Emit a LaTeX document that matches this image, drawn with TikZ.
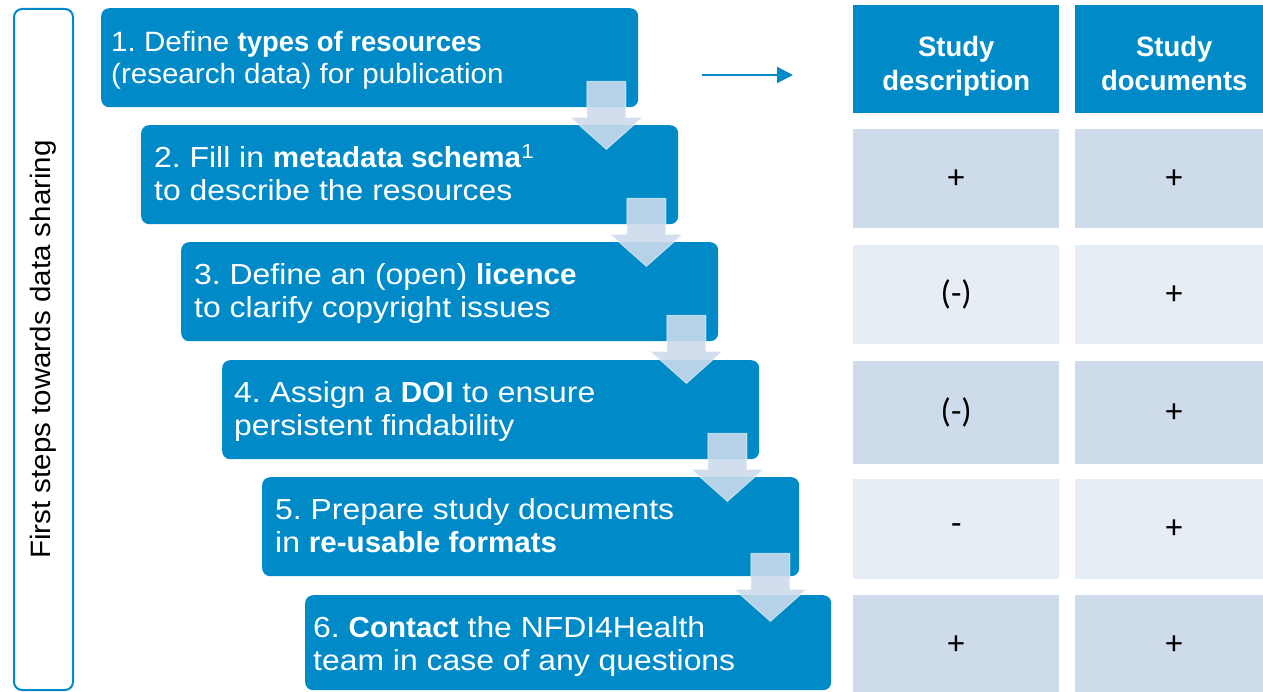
\documentclass[tikz,border=0pt]{standalone}
\usepackage{fontspec}
\setmainfont{Liberation Sans}[FakeStretch=1.055,BoldFeatures={FakeStretch=0.98}]
\newfontfamily\stepfont{Liberation Sans}[FakeStretch=1.10,BoldFeatures={FakeStretch=1.02}]
\newfontfamily\cellfont{Carlito}
\usetikzlibrary{arrows.meta}
\frenchspacing
\definecolor{nblue}{RGB}{0,139,200}
\definecolor{rowdark}{RGB}{205,219,234}
\definecolor{rowlight}{RGB}{230,237,245}
\definecolor{arrfill}{RGB}{205,219,236}
\tikzset{
  stepbox/.style={fill=nblue, rounded corners=8pt, anchor=north west, minimum width=537pt, minimum height=99pt, inner sep=0pt},
  steptext/.style={anchor=north west, align=left, inner sep=0pt, text=white, font=\stepfont\fontsize{29}{33}\selectfont},
  firsttext/.style={steptext, font=\fontsize{28}{32}\selectfont},
  headcell/.style={fill=nblue, anchor=north west, minimum width=206pt, minimum height=108pt, inner sep=0pt},
  headtext/.style={anchor=north, align=center, inner sep=0pt, text=white, font=\fontsize{28}{34}\selectfont\bfseries},
  darkcell/.style={fill=rowdark, anchor=north west, minimum width=206pt, minimum height=99pt, inner sep=0pt, font=\cellfont\fontsize{34}{36}\selectfont},
  lightcell/.style={darkcell, fill=rowlight},
  frame/.style={draw=nblue, line width=2pt, rounded corners=8pt, anchor=north west, minimum width=59pt, minimum height=681pt, inner sep=0pt},
  sidetext/.style={rotate=90, inner sep=0pt, font=\fontsize{28}{32}\selectfont},
  arrstyle/.style={fill=arrfill, fill opacity=0.89, draw=white, draw opacity=0.5, line width=1pt},
  harrow/.style={draw=nblue, line width=2pt, -{Triangle[length=16pt,width=16pt]}},
  downarr/.pic={\path[arrstyle] (-19.5,0) -- (19.5,0) -- (19.5,36) -- (36,36) -- (0,68) -- (-36,36) -- (-19.5,36) -- cycle;}
}
\begin{document}
\begin{tikzpicture}[x=1pt,y=-1pt]
\useasboundingbox (0,0) rectangle (1263,692);
\fill[white] (0,0) rectangle (1263,692);

% side frame
\node[frame] (fr) at (13,8) {};
\node[sidetext] (frt) at (fr.center) {First steps towards data sharing};

% step boxes
\node[stepbox] (b1) at (101,8) {};
\node[stepbox] (b2) at (141,125) {};
\node[stepbox] (b3) at (181,242) {};
\node[stepbox] (b4) at (222,360) {};
\node[stepbox] (b5) at (262,477) {};
\node[stepbox, minimum width=526pt, minimum height=95pt] (b6) at (305,595) {};

\node[firsttext] (t1) at ([xshift=10pt,yshift=-21pt]b1.north west) {\rule{0pt}{22pt}1. Define \textbf{types of resources}\\(research data) for publication};
\node[steptext] (t2) at ([xshift=13pt,yshift=-19pt]b2.north west) {\rule{0pt}{23pt}2. Fill in \textbf{metadata schema}\textsuperscript{1}\\to describe the resources};
\node[steptext] (t3) at ([xshift=13pt,yshift=-19pt]b3.north west) {\rule{0pt}{23pt}3. Define an (open) \textbf{licence}\\to clarify copyright issues};
\node[steptext] (t4) at ([xshift=12pt,yshift=-19pt]b4.north west) {\rule{0pt}{23pt}4. Assign a \textbf{DOI} to ensure\\persistent findability};
\node[steptext] (t5) at ([xshift=13pt,yshift=-19pt]b5.north west) {\rule{0pt}{23pt}5. Prepare study documents\\in \textbf{re-usable formats}};
\node[steptext] (t6) at ([xshift=8pt,yshift=-19pt]b6.north west) {\rule{0pt}{23pt}6. \textbf{Contact} the NFDI4Health\\team in case of any questions};

% block arrows between steps
\pic at ([xshift=-32pt,yshift=26pt]b1.south east) {downarr};
\pic at ([xshift=-32pt,yshift=26pt]b2.south east) {downarr};
\pic at ([xshift=-32pt,yshift=26pt]b3.south east) {downarr};
\pic at ([xshift=-32pt,yshift=26pt]b4.south east) {downarr};
\pic at ([xshift=-29pt,yshift=23pt]b5.south east) {downarr};

% horizontal arrow
\coordinate (ha) at (702,75);
\coordinate (hb) at (793,75);
\draw[harrow] (ha) -- (hb);

% table header
\node[headcell] (hd1) at (853,5) {};
\node[headcell, minimum width=198pt] (hd2) at (1075,5) {};
\node[headtext] (hdt1) at ([yshift=-29pt]hd1.north) {\rule{0pt}{22pt}Study\\description};
\node[headtext] (hdt2) at ([yshift=-29pt]hd2.north) {\rule{0pt}{22pt}Study\\documents};

% table rows
\node[darkcell] (c11) at (853,129) {+};
\node[darkcell, minimum width=198pt] (c12) at (1075,129) {+};
\node[lightcell] (c21) at (853,245) {(-)};
\node[lightcell, minimum width=198pt] (c22) at (1075,245) {+};
\node[darkcell, minimum height=103pt] (c31) at (853,361) {(-)};
\node[darkcell, minimum width=198pt, minimum height=103pt] (c32) at (1075,361) {+};
\node[lightcell, minimum height=100pt] (c41) at (853,479) {-};
\node[lightcell, minimum width=198pt, minimum height=100pt] (c42) at (1075,479) {+};
\node[darkcell] (c51) at (853,595) {+};
\node[darkcell, minimum width=198pt] (c52) at (1075,595) {+};
\end{tikzpicture}
\end{document}
